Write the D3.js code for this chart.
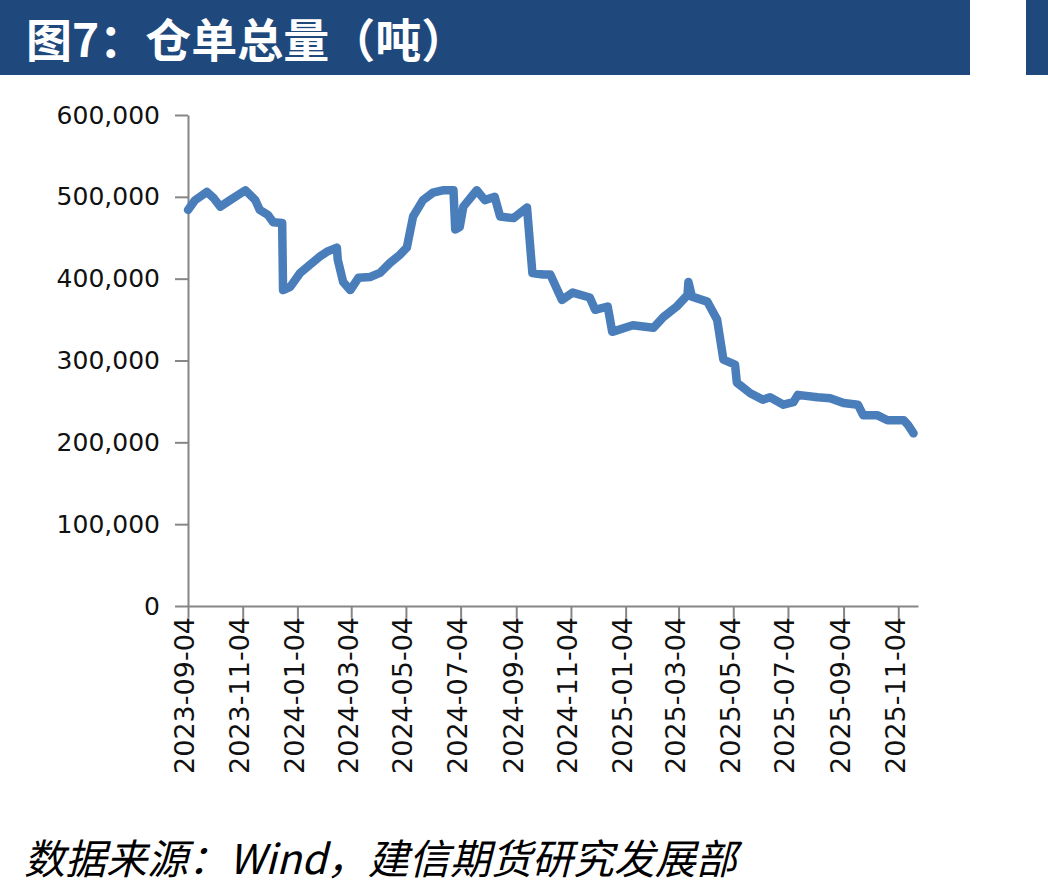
<!DOCTYPE html>
<html>
<head>
<meta charset="utf-8">
<script src="https://cdn.jsdelivr.net/npm/d3@7"></script>
<style>
  body { margin: 0; background: #fff; }
  svg { display: block; }
</style>
</head>
<body>
<div id="chart"></div>
<script>
// 仓单总量 (吨)
const dates = [
  "2023-09-04", "2023-09-12", "2023-09-25", "2023-10-03", "2023-10-10", "2023-10-21", "2023-11-07", "2023-11-18",
  "2023-11-23", "2023-12-02", "2023-12-08", "2023-12-18", "2023-12-19", "2023-12-27",
  "2024-01-07", "2024-01-18", "2024-01-29", "2024-02-06", "2024-02-17", "2024-02-18",
  "2024-02-24", "2024-03-03", "2024-03-12", "2024-03-25", "2024-04-05", "2024-04-16",
  "2024-04-27", "2024-05-05", "2024-05-12", "2024-05-23", "2024-06-03", "2024-06-14",
  "2024-06-26", "2024-06-28", "2024-07-03", "2024-07-07", "2024-07-22", "2024-07-31",
  "2024-08-11", "2024-08-17", "2024-09-01", "2024-09-16", "2024-09-22", "2024-10-04",
  "2024-10-12", "2024-10-25", "2024-11-06", "2024-11-25", "2024-12-01", "2024-12-15",
  "2024-12-20", "2025-01-12", "2025-02-04", "2025-02-15", "2025-03-02", "2025-03-14",
  "2025-03-15", "2025-03-19", "2025-04-05", "2025-04-16", "2025-04-23", "2025-05-06",
  "2025-05-08", "2025-05-23", "2025-06-06", "2025-06-14", "2025-06-29", "2025-07-10",
  "2025-07-15", "2025-08-06", "2025-08-20", "2025-09-04", "2025-09-20", "2025-09-26",
  "2025-10-12", "2025-10-23", "2025-11-10", "2025-11-15", "2025-11-21"
];
const values = [
  484000, 496000, 506000, 498000, 488000, 496000, 508000, 496000,
  484000, 478000, 469000, 468000, 386000, 390000,
  407000, 417000, 427000, 433000, 438000, 423000,
  396000, 386000, 401000, 402000, 407000, 419000,
  429000, 438000, 476000, 496000, 505000, 508000,
  508000, 460000, 463000, 488000, 508000, 496000,
  500000, 476000, 474000, 487000, 407000, 405000,
  405000, 374000, 383000, 377000, 362000, 366000,
  335000, 343000, 340000, 353000, 366000, 380000,
  396000, 378000, 372000, 350000, 301000, 295000,
  273000, 260000, 252000, 255000, 246000, 249000,
  258000, 255000, 254000, 248000, 246000, 233000,
  233000, 227000, 227000, 221000, 211000
];
const yTicks = [0, 100000, 200000, 300000, 400000, 500000, 600000];
const xTickLabels = [
  "2023-09-04", "2023-11-04", "2024-01-04", "2024-03-04", "2024-05-04", "2024-07-04",
  "2024-09-04", "2024-11-04", "2025-01-04", "2025-03-04", "2025-05-04", "2025-07-04",
  "2025-09-04", "2025-11-04"
];
const titleText = "图7：仓单总量（吨）";
const sourceText = "数据来源：Wind，建信期货研究发展部";

const W = 1048, H = 888;
const margin = { top: 115, right: 130, bottom: 282, left: 188 };
const width = W - margin.left - margin.right,
      height = H - margin.top - margin.bottom;

const parse = d3.timeParse("%Y-%m-%d");
const data = dates.map((d, i) => ({ date: parse(d), value: values[i] }));

const svg = d3.select("#chart").append("svg")
    .attr("width", W)
    .attr("height", H);

// header bars
svg.append("rect").attr("x", 0).attr("y", 0).attr("width", 970).attr("height", 75).attr("fill", "#1f497d");
svg.append("rect").attr("x", 1026).attr("y", 0).attr("width", 22).attr("height", 75).attr("fill", "#1f497d");
svg.append("text")
    .attr("x", 26).attr("y", 37)
    .attr("dominant-baseline", "central")
    .style("font-family", "'Noto Sans CJK SC', sans-serif")
    .style("font-weight", "bold")
    .style("font-size", "46px")
    .style("fill", "#fff")
    .text(titleText);

const g = svg.append("g")
    .attr("transform", "translate(" + margin.left + "," + margin.top + ")");

const x = d3.scaleTime()
    .domain([parse("2023-09-04"), parse("2025-11-26")])
    .range([0, width]);
const y = d3.scaleLinear()
    .domain([0, 600000])
    .range([height, 0]);

const yAxis = g.append("g")
    .call(d3.axisLeft(y).tickValues(yTicks).tickFormat(d3.format(",")).tickSize(13).tickSizeOuter(0).tickPadding(15));
const xAxis = g.append("g")
    .attr("transform", `translate(0, ${height})`)
    .call(d3.axisBottom(x).tickValues(xTickLabels.map(parse)).tickFormat(d3.timeFormat("%Y-%m-%d")).tickSize(12).tickSizeOuter(0));

[yAxis, xAxis].forEach(a => {
    a.select(".domain").attr("stroke", "#868686").attr("stroke-width", 2);
    a.selectAll(".tick line").attr("stroke", "#868686").attr("stroke-width", 2);
    a.selectAll("text")
        .style("font-family", "'DejaVu Sans', Verdana, sans-serif")
        .style("fill", "#111");
});
yAxis.selectAll("text").style("font-size", "25px");
xAxis.selectAll("text")
    .style("font-size", "27px")
    .attr("transform", "rotate(-90)")
    .attr("text-anchor", "end")
    .attr("x", -11)
    .attr("y", 0)
    .attr("dy", "0.22em");

const line = d3.line()
    .x(d => x(d.date))
    .y(d => y(d.value));

g.append("path")
    .datum(data)
    .attr("fill", "none")
    .attr("stroke", "#4a7ebb")
    .attr("stroke-width", 8.5)
    .attr("stroke-linejoin", "round")
    .attr("stroke-linecap", "round")
    .attr("d", line);

svg.append("text")
    .attr("x", 24).attr("y", 856)
    .attr("dominant-baseline", "central")
    .style("font-family", "'Noto Sans CJK SC', sans-serif")
    .style("font-style", "italic")
    .style("font-size", "41px")
    .style("fill", "#000")
    .text(sourceText);
</script>
</body>
</html>
